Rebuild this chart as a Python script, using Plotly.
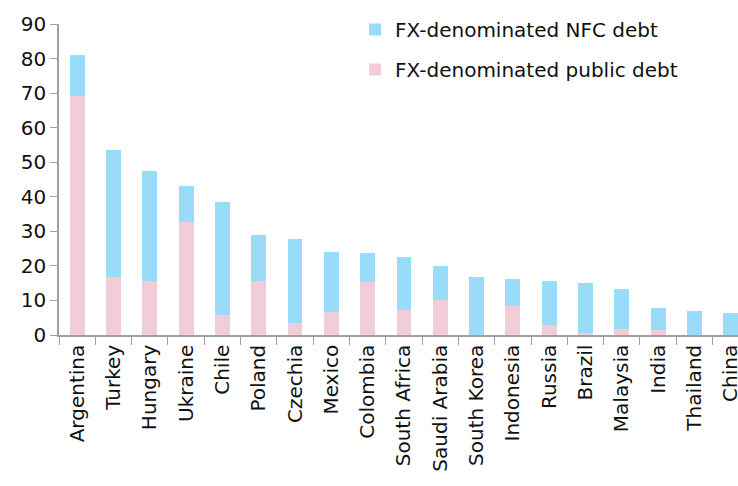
import plotly.graph_objects as go

countries = ["Argentina", "Turkey", "Hungary", "Ukraine", "Chile", "Poland", "Czechia",
             "Mexico", "Colombia", "South Africa", "Saudi Arabia", "South Korea",
             "Indonesia", "Russia", "Brazil", "Malaysia", "India", "Thailand", "China"]
total = [80.9, 53.5, 47.4, 43.0, 38.4, 28.9, 27.8, 24.1, 23.8, 22.6, 20.0, 16.7,
         16.1, 15.6, 15.1, 13.2, 7.9, 6.9, 6.5]
public_debt = [69.3, 16.8, 15.6, 32.8, 5.7, 15.6, 3.5, 6.6, 15.4, 7.2, 10.2, 0.0,
               8.3, 2.9, 0.5, 1.7, 1.5, 0.0, 0.0]
nfc_debt = [round(t - p, 1) for t, p in zip(total, public_debt)]

BLUE = "#99DCF9"
PINK = "#F0CDD7"
AXIS = "#A0A0A0"
FONT = "DejaVu Sans"

fig = go.Figure()
fig.add_trace(go.Bar(x=countries, y=public_debt, name="FX-denominated public debt",
                     marker=dict(color=PINK, line=dict(width=0)),
                     legendgroup="pub", legendrank=2))
fig.add_trace(go.Bar(x=countries, y=nfc_debt, name="FX-denominated NFC debt",
                     marker=dict(color=BLUE, line=dict(width=0)),
                     legendgroup="nfc", legendrank=1))

W, H = 738, 486
L, B = 59, 151
PH = H - B
fig.update_layout(
    barmode="stack",
    bargap=0.59,
    width=W, height=H,
    margin=dict(l=L, r=0, t=0, b=B, pad=0, autoexpand=False),
    paper_bgcolor="white", plot_bgcolor="white",
    font=dict(family=FONT, size=20, color="#111111"),
    showlegend=True,
    legend=dict(x=0.436, y=1 - 10 / PH, xanchor="left", yanchor="top",
                traceorder="grouped", tracegroupgap=11,
                font=dict(family=FONT, size=20, color="#111111"),
                bgcolor="rgba(0,0,0,0)", itemwidth=30),
    xaxis=dict(range=[-0.5, 18.2], showline=True, linecolor=AXIS, linewidth=1.5,
               ticks="outside", tickson="boundaries", ticklen=8, tickcolor=AXIS,
               tickangle=-90, showgrid=False, automargin=False,
               tickfont=dict(family=FONT, size=20)),
    yaxis=dict(range=[0, 90], dtick=10, domain=[0, 1 - 24 / PH], showline=True,
               linecolor=AXIS, linewidth=1.5, automargin=False,
               ticks="outside", ticklen=7, tickcolor=AXIS, showgrid=False,
               zeroline=False, tickfont=dict(family=FONT, size=20)),
)

fig.write_html(
    "out.html",
    config={"displayModeBar": False},
    post_script="document.documentElement.style.margin='0';"
                "document.body.style.margin='0';"
                "document.body.style.overflow='hidden';",
)
